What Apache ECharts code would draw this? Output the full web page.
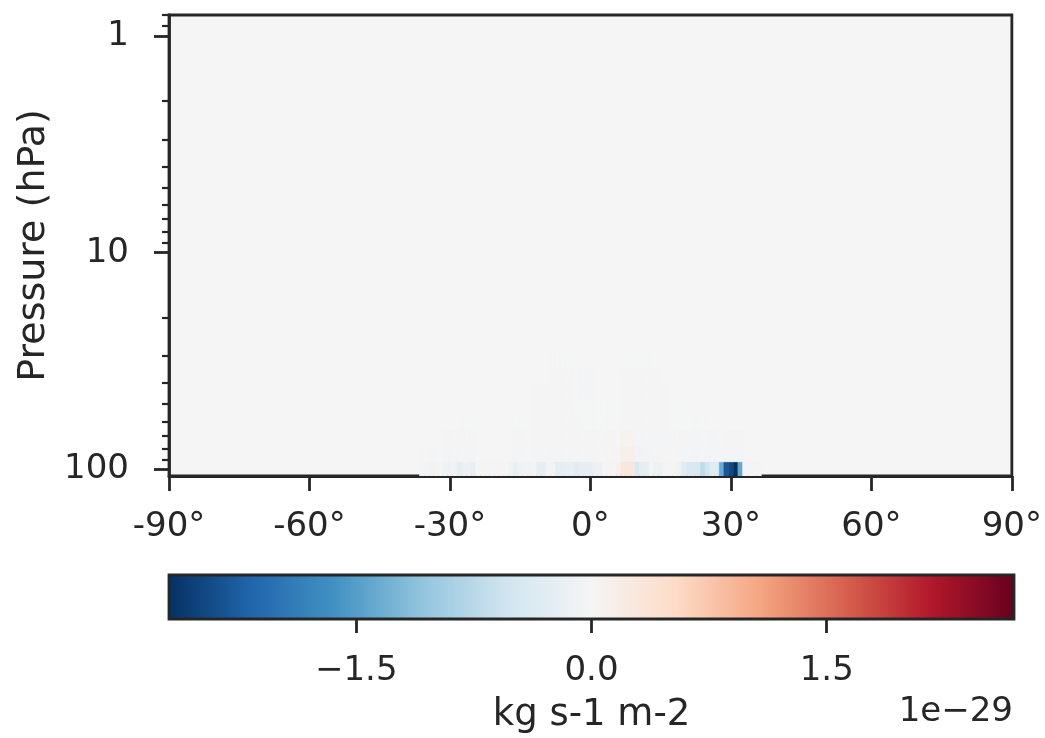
<!DOCTYPE html>
<html><head><meta charset="utf-8">
<script src="https://cdn.jsdelivr.net/npm/echarts@6.0.0/dist/echarts.min.js"></script>
<style>html,body{margin:0;padding:0;background:#fff}#c{width:1045px;height:738px}</style>
</head><body><div id="c"></div>
<script>
// ---- data ----
const levels = [100, 85, 72, 61, 52, 44, 37, 31.5];          // pressure level centres (hPa)
const pRange = [0.8, 107.2];                                   // y-axis extent (hPa), top..bottom
const latTicks = [-90, -60, -30, 0, 30, 60, 90];
const pMajor = [1, 10, 100];
const pMinor = [0.8, 0.9, 2, 3, 4, 5, 6, 7, 8, 9, 20, 30, 40, 50, 60, 70, 80, 90];
const cbRange = [-2.694, 2.694];                               // colour limits (x1e-29)
const cbTicks = [-1.5, 0, 1.5];
const rdbuR = ['#053061','#2166ac','#4393c3','#92c5de','#d1e5f0','#f5f5f5','#fddbc7','#f4a582','#d6604d','#b2182b','#67001f'];

// lowest level (100 hPa), 1-degree cells from -36 to 36
const bottomStartLat = -36;
const bottomRow = [-0.04,-0.04,-0.07,0.06,-0.04,-0.10,-0.10,-0.10,-0.22,-0.15,-0.15,-0.22,-0.04,0.05,-0.03,
  -0.02,-0.02,-0.02,-0.02,-0.10,-0.18,-0.10,-0.08,-0.07,-0.04,-0.22,-0.22,-0.06,-0.06,-0.25,-0.25,-0.20,-0.20,
  -0.30,-0.22,-0.22,-0.22,-0.15,-0.15,-0.03,0.06,0.03,0.10,0.30,0.30,0.30,-0.40,-0.25,-0.25,-0.05,-0.12,-0.12,
  -0.02,-0.02,-0.02,-0.10,-0.30,-0.40,-0.40,-0.45,-0.70,-0.55,-0.30,-0.30,-1.35,-2.30,-2.45,-2.69,-1.40,
  -0.03,-0.03,-0.03,-0.03];

// upper levels: runs [fromLat, toLat, value]
const row85 = [[-36,-33,-0.02],[-31,-25,-0.04],[-16,-14,-0.03],[-12,-3,-0.03],[-2,5,-0.02],[6,6,0.04],[7,9,0.12],[10,12,-0.06],[13,18,-0.02],[19,22,-0.03],[23,27,-0.04],[28,32,-0.03]];
const row72 = [[-31,-25,-0.02],[-16,-14,-0.02],[-12,5,-0.02],[7,9,0.06],[10,16,-0.03],[17,22,-0.02],[23,27,-0.03],[29,32,-0.02]];
const row61 = [[-27,-25,-0.015],[-16,-14,-0.015],[-12,-2,-0.02],[-1,5,-0.015],[7,16,-0.02],[17,19,-0.015],[22,24,-0.015]];
const row52 = [[-12,-4,-0.02],[-3,5,-0.015],[7,16,-0.02],[17,19,-0.015]];
const row44 = [[-12,-4,-0.02],[-2,0,-0.025],[7,16,-0.02]];
const row37 = [[-8,-4,-0.02],[-2,0,-0.03],[7,15,-0.02]];
const row31 = [[-8,-4,-0.015],[7,12,-0.015]];
const upperRows = [row85, row72, row61, row52, row44, row37, row31];

// ---- build ----
const L10 = Math.log10;
const edges = [];
edges.push(levels[0] * Math.sqrt(levels[0] / levels[1]));
for (let i = 0; i < levels.length - 1; i++) edges.push(Math.sqrt(levels[i] * levels[i + 1]));
const n = levels.length;
edges.push(levels[n - 1] * Math.sqrt(levels[n - 1] / levels[n - 2]));

const cells = [];
bottomRow.forEach((v, i) => cells.push([bottomStartLat + i, L10(levels[0]), v, 0]));
upperRows.forEach((runs, r) => {
  runs.forEach(([a, b, v]) => { for (let lat = a; lat <= b; lat++) cells.push([lat, L10(levels[r + 1]), v, r + 1]); });
});

const C = '#262626';
const FONT = 'DejaVu Sans';
const LW = 2.8;

const chart = echarts.init(document.getElementById('c'));
chart.setOption({
  animation: false,
  backgroundColor: '#ffffff',
  textStyle: { fontFamily: FONT, color: C },
  grid: [
    { left: 169, top: 15, width: 845, height: 461, show: true, backgroundColor: '#f5f5f5', borderColor: C, borderWidth: LW },
    { left: 169, top: 575, width: 845, height: 44 }
  ],
  visualMap: [{
    show: false, type: 'continuous', seriesIndex: 0, dimension: 2,
    min: cbRange[0], max: cbRange[1], inRange: { color: rdbuR }
  }],
  xAxis: [
    {
      gridIndex: 0, type: 'value', min: latTicks[0], max: latTicks[latTicks.length - 1], interval: 30,
      axisLine: { show: true, onZero: false, lineStyle: { color: C, width: LW } },
      axisTick: { show: true, length: 15, lineStyle: { color: C, width: LW } },
      axisLabel: { fontSize: 34, color: C, fontFamily: FONT, margin: 34, formatter: v => v + '°' },
      splitLine: { show: false }
    },
    {
      gridIndex: 1, type: 'value', min: cbRange[0], max: cbRange[1],
      axisLine: { show: false, onZero: false },
      axisTick: { show: true, length: 14, customValues: cbTicks, lineStyle: { color: C, width: LW } },
      axisLabel: { fontSize: 34, color: C, fontFamily: FONT, margin: 35, customValues: cbTicks,
        formatter: v => (v < 0 ? '\u2212' : '') + Math.abs(v).toFixed(1) },
      splitLine: { show: false },
      name: 'kg s-1 m-2', nameLocation: 'middle', nameGap: 78,
      nameTextStyle: { fontSize: 37, color: C, fontFamily: FONT }
    }
  ],
  yAxis: [
    {
      gridIndex: 0, type: 'value', inverse: true, min: L10(pRange[0]), max: L10(pRange[1]),
      axisLine: { show: true, onZero: false, lineStyle: { color: C, width: LW } },
      axisTick: { show: true, length: 15, customValues: pMajor.map(L10), lineStyle: { color: C, width: LW } },
      axisLabel: { fontSize: 34, color: C, fontFamily: FONT, margin: 40, customValues: pMajor.map(L10),
        formatter: v => String(Math.round(Math.pow(10, v))) },
      splitLine: { show: false },
      name: 'Pressure (hPa)', nameLocation: 'middle', nameGap: 116, nameRotate: 90,
      nameTextStyle: { fontSize: 38, color: C, fontFamily: FONT }
    },
    {
      gridIndex: 0, type: 'value', inverse: true, min: L10(pRange[0]), max: L10(pRange[1]), position: 'left',
      axisLine: { show: false, onZero: false },
      axisTick: { show: true, length: 7, customValues: pMinor.map(L10), lineStyle: { color: C, width: 2.2 } },
      axisLabel: { show: false },
      splitLine: { show: false }
    },
    { gridIndex: 1, type: 'value', min: 0, max: 1, show: false }
  ],
  graphic: [{
    type: 'text', x: 1013, y: 712, z: 10,
    style: { text: '1e\u221229', fontSize: 34, fontFamily: FONT, fill: C, align: 'right', verticalAlign: 'middle' }
  }],
  series: [
    {
      type: 'custom', xAxisIndex: 0, yAxisIndex: 0, clip: true,
      encode: { x: 0, y: 1 },
      data: cells,
      renderItem: (params, api) => {
        const lat = api.value(0), li = api.value(3);
        const p1 = api.coord([lat - 0.5, L10(edges[li])]);
        const p2 = api.coord([lat + 0.5, L10(edges[li + 1])]);
        const rect = { x: Math.min(p1[0], p2[0]), y: Math.min(p1[1], p2[1]),
          width: Math.abs(p2[0] - p1[0]), height: Math.abs(p2[1] - p1[1]) };
        const cs = params.coordSys;
        const r = echarts.graphic.clipRectByRect(rect, { x: cs.x, y: cs.y, width: cs.width, height: cs.height });
        if (!r) return;
        const col = api.visual('color');
        return { type: 'rect', shape: r, style: { fill: col, stroke: col, lineWidth: 0.5 } };
      }
    },
    {
      type: 'custom', xAxisIndex: 1, yAxisIndex: 2, clip: false,
      encode: { x: 0, y: 1 },
      data: [[cbRange[0], 0]],
      renderItem: (params, api) => {
        const a = api.coord([cbRange[0], 1]);
        const b = api.coord([cbRange[1], 0]);
        const stops = rdbuR.map((c, i) => ({ offset: i / (rdbuR.length - 1), color: c }));
        return {
          type: 'rect', z2: 5,
          shape: { x: a[0], y: a[1], width: b[0] - a[0], height: b[1] - a[1] },
          style: { fill: { type: 'linear', x: 0, y: 0, x2: 1, y2: 0, colorStops: stops }, stroke: C, lineWidth: LW }
        };
      }
    }
  ]
});
</script>
</body></html>
